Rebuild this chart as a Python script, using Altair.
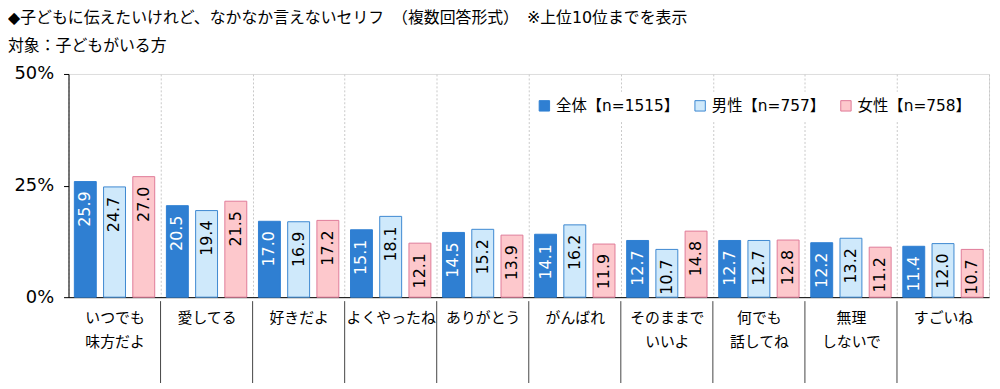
import altair as alt
import pandas as pd

categories = ["いつでも\n味方だよ", "愛してる", "好きだよ", "よくやったね", "ありがとう",
              "がんばれ", "そのままで\nいいよ", "何でも\n話してね", "無理\nしないで", "すごいね"]
series = ["全体【n=1515】", "男性【n=757】", "女性【n=758】"]
total = [25.9, 20.5, 17.0, 15.1, 14.5, 14.1, 12.7, 12.7, 12.2, 11.4]
male = [24.7, 19.4, 16.9, 18.1, 15.2, 16.2, 10.7, 12.7, 13.2, 12.0]
female = [27.0, 21.5, 17.2, 12.1, 13.9, 11.9, 14.8, 12.8, 11.2, 10.7]
y_ticks = [0, 25, 50]

fills = ["#2f7fd2", "#cfe9fb", "#fdc8cc"]
strokes = ["#2f7fd2", "#3d88d0", "#e07a98"]

rows = []
for vals, s in zip([total, male, female], series):
    for c, v in zip(categories, vals):
        rows.append({"cat": c, "series": s, "value": v})
df = pd.DataFrame(rows)
sep_df = pd.DataFrame({"cat": categories[1:]})

W, H = 928, 225
JP = "Noto Sans CJK JP"
NUM = "DejaVu Sans, Noto Sans CJK JP"

x_axis = alt.Axis(
    title=None, labelAngle=0, labelFont=JP, labelFontSize=15, labelColor="black",
    labelExpr="split(datum.label, '\\n')", labelLineHeight=24, labelBaseline="top",
    labelPadding=14, ticks=False, tickBand="extent", grid=True, gridDash=[2, 2],
    gridColor="#c8c8c8", domainColor="black",
)
x_enc = alt.X("cat:N", sort=categories, axis=x_axis,
              scale=alt.Scale(paddingInner=0, paddingOuter=0))
xo = alt.XOffset("series:N", sort=series,
                 scale=alt.Scale(paddingInner=0.25, paddingOuter=0.2))
y_enc = alt.Y("value:Q", scale=alt.Scale(domain=[0, 50]),
              axis=alt.Axis(title=None, values=y_ticks, labelExpr="datum.value + '%'",
                            labelFont=NUM, labelFontSize=18, labelColor="black",
                            tickColor="black", tickSize=5, labelPadding=10,
                            domainColor="black", grid=False))

legend = alt.Legend(title=None, orient="none", legendX=466, legendY=18,
                    direction="horizontal", symbolType="square",
                    symbolSize=110, labelFont=NUM, labelFontSize=15.5,
                    labelColor="black", columnPadding=13,
                    fillColor="white", padding=6, symbolStrokeWidth=1,
                    symbolOpacity=1)

base = alt.Chart(df)

bars = base.mark_bar(strokeWidth=1).encode(
    x=x_enc, xOffset=xo, y=y_enc,
    fill=alt.Fill("series:N", sort=series,
                  scale=alt.Scale(domain=series, range=fills), legend=legend),
    stroke=alt.Stroke("series:N", sort=series,
                      scale=alt.Scale(domain=series, range=strokes), legend=legend),
)

labels = base.mark_text(angle=270, align="right", baseline="middle", dx=-10,
                        font=NUM, fontSize=16).encode(
    x=x_enc, xOffset=xo, y=y_enc,
    text=alt.Text("value:Q", format=".1f"),
    color=alt.condition(alt.datum.series == series[0], alt.value("white"), alt.value("black")),
)

seps = alt.Chart(sep_df).mark_rule(color="#444444", strokeWidth=1).encode(
    x=alt.X("cat:N", sort=categories, bandPosition=0),
    y=alt.value(H + 4),
    y2=alt.value(H + 95),
)

chart = alt.layer(bars, labels, seps).properties(
    width=W, height=H,
    title=alt.TitleParams(
        text="◆子どもに伝えたいけれど、なかなか言えないセリフ　（複数回答形式）　※上位10位までを表示",
        subtitle="対象：子どもがいる方",
        anchor="start", frame="group", dx=-61, offset=11,
        font=NUM, fontSize=16, fontWeight="normal", color="black",
        subtitleFont=NUM, subtitleFontSize=16, subtitleColor="black", subtitlePadding=12,
    ),
    autosize=alt.AutoSizeParams(type="none"),
    padding={"left": 61, "top": 65, "right": 3, "bottom": 85},
).configure_view(stroke="black", strokeWidth=1).configure(background="white")

chart.save("out.html", embed_options={"renderer": "svg", "actions": False})
